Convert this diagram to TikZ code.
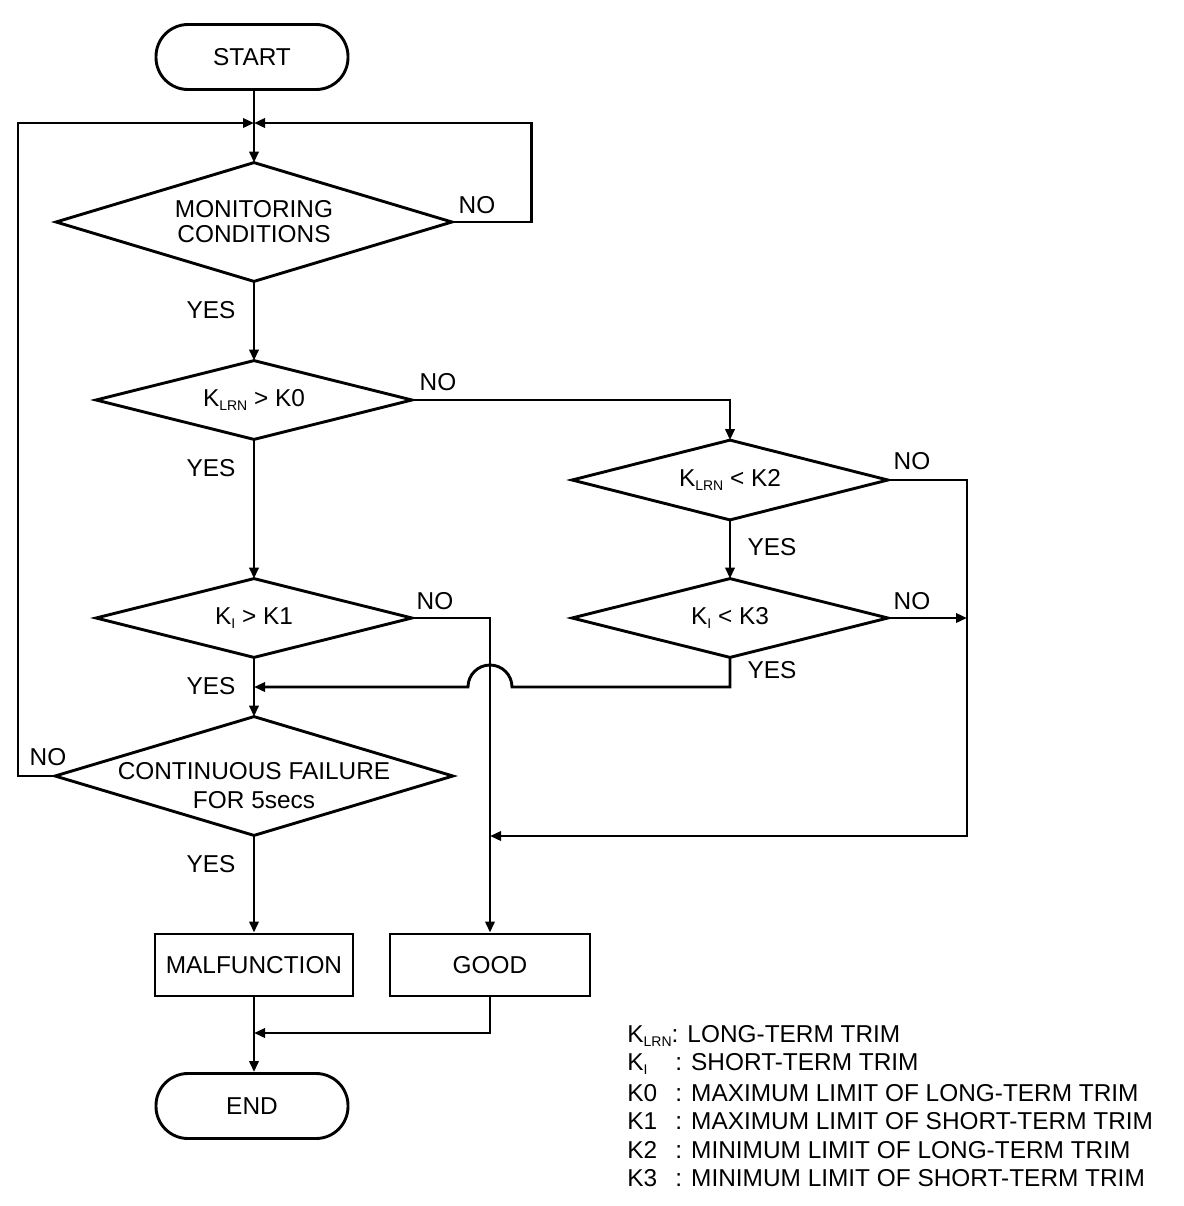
\documentclass[tikz,border=0pt]{standalone}
\usepackage{fontspec}
\setmainfont{Liberation Sans}
\usetikzlibrary{arrows.meta}
\newcommand\sbs[1]{\raisebox{-0.35ex}{\fontsize{7}{8}\selectfont #1}}
\begin{document}
\begin{tikzpicture}[x=0.5pt,y=-0.5pt,
  every node/.style={font=\fontsize{12.2}{12.5}\selectfont, inner sep=0pt},
  ln/.style={line width=1.45pt},
  arr/.style={ln, -{Triangle[length=5.5pt,width=4.6pt]}},
  term/.style={draw, line width=1.45pt, rounded corners=16pt, minimum width=96pt, minimum height=32.5pt},
  procbox/.style={draw, line width=1.45pt, minimum width=99pt, minimum height=31pt},
  dec/.style={rectangle, align=center},
  leg/.style={anchor=west}]
\useasboundingbox (0,0) rectangle (1184,1206);

% terminals and boxes
\node[term] (start) at (252,57) {START};
\node[term] (end) at (252,1106) {END};
\node[procbox] (mal) at (254,965) {MALFUNCTION};
\node[procbox, minimum width=100pt] (good) at (490,965) {GOOD};

% decisions
\node[dec, minimum width=197.5pt, minimum height=59pt] (d1) at (254,222) {MONITORING\\CONDITIONS};
\node[dec, minimum width=157.5pt, minimum height=39pt] (d2) at (254,400) {K\sbs{LRN} > K0};
\node[dec, minimum width=157.5pt, minimum height=39.5pt] (d3) at (730,480) {K\sbs{LRN} < K2};
\node[dec, minimum width=157.5pt, minimum height=39pt] (d4) at (730,618) {K\sbs{I} < K3};
\node[dec, minimum width=157.5pt, minimum height=39pt] (d6) at (254,618) {K\sbs{I} > K1};
\node[dec, minimum width=198.5pt, minimum height=59pt] (d5) at (254,776) {};
\node[align=center, font=\fontsize{12.2}{14.5}\selectfont] (d5t) at (254,786) {CONTINUOUS FAILURE\\FOR 5secs};
\foreach \n in {d1,d2,d3,d4,d5,d6}
  \draw[ln] (\n.north) -- (\n.east) -- (\n.south) -- (\n.west) -- cycle;

% helper coordinates
\coordinate (J) at (254,123);
\coordinate (L) at (18,776);
\coordinate (R) at (967,836);
\coordinate (Y) at (254,687);
\coordinate (M) at (254,1033);

% connectors
\draw[arr] (start.south -| J) -- (d1.north);
\draw[arr] (d5.west) -- (L) |- (J);
\draw[arr] (d1.east) -- ++(80,0) |- (J);
\draw[arr] (d1.south) -- (d2.north);
\draw[arr] (d2.south) -- (d6.north);
\draw[arr] (d2.east) -| (d3.north);
\draw[arr] (d3.south) -- (d4.north);
\draw[arr] (d3.east) -| (R) -- (good.north |- R);
\draw[arr] (d4.east) -- (d4.east -| R);
\draw[arr] (d6.east) -| (good.north);
\draw[arr] (d4.south) |- ([xshift=11pt]good.north |- Y) arc[start angle=0, end angle=180, radius=11pt] -- (Y);
\draw[arr] (d6.south) -- (d5.north);
\draw[arr] (d5.south) -- (mal.north);
\draw[arr] (mal.south) -- (end.north -| M);
\draw[arr] (good.south) |- (M);

% labels
\node (n1) at (477,205) {NO};
\node (y1) at (211,310) {YES};
\node (n2) at (438,382) {NO};
\node (y2) at (211,468) {YES};
\node (n3) at (912,461) {NO};
\node (y3) at (772,547) {YES};
\node (n4) at (435,601) {NO};
\node (n5) at (912,601) {NO};
\node (y4) at (211,686) {YES};
\node (y5) at (772,670) {YES};
\node (n6) at (48,757) {NO};
\node (y6) at (211,864) {YES};

% legend
\node[leg] (l1) at (627,1036) {K\sbs{LRN}: LONG-TERM TRIM};
\node[leg] (l2) at (627,1064) {\makebox[24pt][l]{K\sbs{I}}: SHORT-TERM TRIM};
\node[leg] (l3) at (627,1093) {\makebox[24pt][l]{K0}: MAXIMUM LIMIT OF LONG-TERM TRIM};
\node[leg] (l4) at (627,1121) {\makebox[24pt][l]{K1}: MAXIMUM LIMIT OF SHORT-TERM TRIM};
\node[leg] (l5) at (627,1150) {\makebox[24pt][l]{K2}: MINIMUM LIMIT OF LONG-TERM TRIM};
\node[leg] (l6) at (627,1178) {\makebox[24pt][l]{K3}: MINIMUM LIMIT OF SHORT-TERM TRIM};
\end{tikzpicture}
\end{document}
